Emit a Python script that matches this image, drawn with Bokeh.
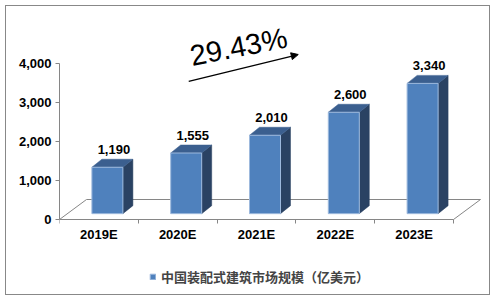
from bokeh.plotting import figure
from bokeh.models import (ColumnDataSource, Range1d, FixedTicker, NumeralTickFormatter,
                          Label, Arrow, NormalHead, Legend, LegendItem)
from bokeh.core.properties import value
from bokeh.embed import file_html
from bokeh.resources import INLINE

# ---- data ----
categories = ["2019E", "2020E", "2021E", "2022E", "2023E"]
market_size = [1190, 1555, 2010, 2600, 3340]
y_ticks = [0, 1000, 2000, 3000, 4000]
series_name = "中国装配式建筑市场规模（亿美元）"
cagr_text = "29.43%"

# ---- layout constants (pixels) ----
W, H = 483, 288
ML, MR, MT, MB = 53, 4, 9, 0
FW = W - ML - MR
FH = H - MT - MB
n = len(categories)
PX_X = 394 / n          # px per category unit
PX_Y = 156 / 4000       # px per value unit
ux = 1 / PX_X
uy = 1 / PX_Y
BELOW_ZERO_PX = 75      # frame space under the value axis origin
x_end = FW * ux
y_start = -BELOW_ZERO_PX * uy
y_end = (FH - BELOW_ZERO_PX) * uy

FRONT = "#4F81BD"
TOP = "#3B5F8F"
SIDE = "#2A4263"
EDGE = "#9DB9DD"
GRAY = "#868686"
FONT = "Liberation Sans"
CJK = "Noto Sans CJK SC"

p = figure(width=W, height=H, x_range=Range1d(0, x_end), y_range=Range1d(y_start, y_end),
           output_backend="svg", toolbar_location=None,
           min_border_left=ML, min_border_right=MR, min_border_top=MT, min_border_bottom=MB)
p.margin = (6, 0, 0, 6)
p.styles = {"outline": "1px solid #888888"}
p.outline_line_color = None
p.xgrid.visible = False
p.ygrid.visible = False
p.background_fill_color = "white"
p.border_fill_color = "white"

# ---- 3D geometry (derived from data) ----
base = 150
centers = [i + 0.5 for i in range(n)]
fl = [c - 7 * ux for c in centers]
fr = [l + 31 * ux for l in fl]
tops = [v + base for v in market_size]
dx = 10 * ux
dy = 8 * uy

# floor
fdx = 27 * ux
fdy = 20 * uy
p.segment(x0=[0, n, fdx], y0=[0, 0, fdy], x1=[fdx, n + fdx, n + fdx], y1=[fdy, fdy, fdy],
          line_color=GRAY, line_width=1)

side_src = ColumnDataSource(dict(
    xs=[[r, r + dx, r + dx, r] for r in fr],
    ys=[[base, base + dy, t + dy, t] for t in tops]))
top_src = ColumnDataSource(dict(
    xs=[[l, r, r + dx, l + dx] for l, r in zip(fl, fr)],
    ys=[[t, t, t + dy, t + dy] for t in tops]))
front_src = ColumnDataSource(dict(left=fl, right=fr, bottom=[base] * n, top=tops))

p.patches("xs", "ys", source=side_src, fill_color=SIDE, line_color=SIDE, line_width=0.5)
p.patches("xs", "ys", source=top_src, fill_color=TOP, line_color=TOP, line_width=0.5)
front = p.quad(left="left", right="right", bottom="bottom", top="top", source=front_src,
               fill_color=FRONT, line_color=EDGE, line_width=1)

# value labels
lab_src = ColumnDataSource(dict(
    x=[c + 15 * ux for c in centers],
    y=[t + dy + 5 * uy for t in tops],
    text=[f"{v:,}" for v in market_size]))
p.text(x="x", y="y", text="text", source=lab_src, text_align="center",
       text_baseline="bottom", text_font=value(FONT), text_font_style="bold",
       text_font_size="13px", text_color="black")

# growth annotation
p.add_layout(Label(x=1.66, y=4190, text=cagr_text, angle=11, angle_units="deg",
                   text_font=FONT, text_font_size="29px", text_color="black",
                   text_baseline="alphabetic"))
p.add_layout(Arrow(x_start=1.64, y_start=3540, x_end=3.03, y_end=4230, line_width=1.3,
                   end=NormalHead(size=7, fill_color="black", line_color="black")))

# axes
xa = p.xaxis[0]
xa.fixed_location = 0
xa.ticker = FixedTicker(ticks=centers, minor_ticks=list(range(n + 1)))
xa.major_label_overrides = {c: cat for c, cat in zip(centers, categories)}
xa.bounds = (0, n)
xa.major_tick_out = 0
xa.major_tick_in = 0
xa.minor_tick_out = 4
xa.minor_tick_in = 0
xa.axis_line_color = GRAY
xa.minor_tick_line_color = GRAY
xa.major_label_standoff = 3
xa.major_label_text_font = FONT
xa.major_label_text_font_style = "bold"
xa.major_label_text_font_size = "13px"
xa.major_label_text_color = "black"

ya = p.yaxis[0]
ya.ticker = FixedTicker(ticks=y_ticks, minor_ticks=[])
ya.formatter = NumeralTickFormatter(format="0,0")
ya.bounds = (0, 4000)
ya.major_tick_out = 4
ya.major_tick_in = 0
ya.minor_tick_out = 0
ya.minor_tick_in = 0
ya.axis_line_color = GRAY
ya.major_tick_line_color = GRAY
ya.major_label_standoff = 4
ya.major_label_text_font = FONT
ya.major_label_text_font_style = "bold"
ya.major_label_text_font_size = "13px"
ya.major_label_text_color = "black"

legend = Legend(items=[LegendItem(label=series_name, renderers=[front])],
                location=(90, 8), orientation="horizontal")
legend.glyph_width = 7
legend.glyph_height = 7
legend.label_standoff = 5
legend.label_text_font = CJK
legend.label_text_font_style = "bold"
legend.label_text_font_size = "13px"
legend.border_line_color = None
legend.background_fill_alpha = 0
legend.padding = 0
legend.margin = 0
p.add_layout(legend)

open("out.html", "w").write(file_html(p, INLINE))
